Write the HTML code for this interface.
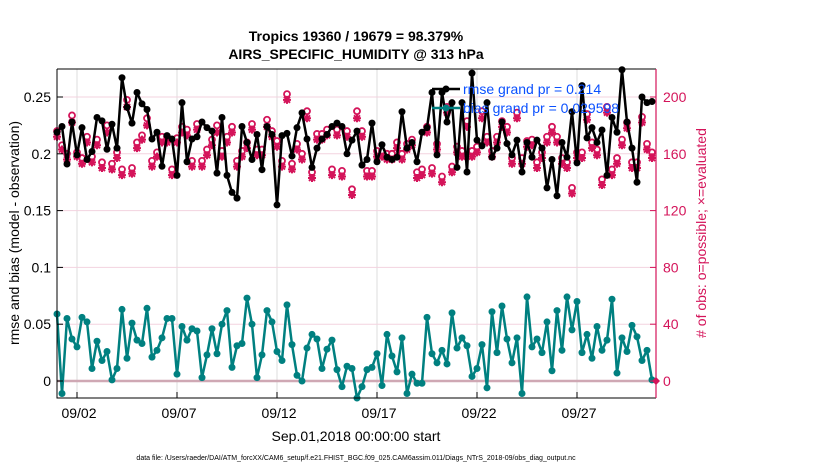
<!DOCTYPE html>
<html><head><meta charset="utf-8"><style>
body{margin:0;background:#fff;width:830px;height:470px;overflow:hidden}
svg{display:block;font-family:"Liberation Sans",Arial,sans-serif}
</style></head><body>
<svg id="chart" width="830" height="470">
<g id="grid"></g>
<g id="marks"></g>
<g id="axes"></g>
<text x="356" y="41" text-anchor="middle" font-size="14" font-weight="bold">Tropics 19360 / 19679 = 98.379%</text>
<text x="356" y="59" text-anchor="middle" font-size="14" font-weight="bold">AIRS_SPECIFIC_HUMIDITY @ 313 hPa</text>
<text x="356" y="441" text-anchor="middle" font-size="14">Sep.01,2018 00:00:00 start</text>
<text x="356" y="460" text-anchor="middle" font-size="7">data file: /Users/raeder/DAI/ATM_forcXX/CAM6_setup/f.e21.FHIST_BGC.f09_025.CAM6assim.011/Diags_NTrS_2018-09/obs_diag_output.nc</text>
<text transform="translate(19,233) rotate(-90)" text-anchor="middle" font-size="14">rmse and bias (model - observation)</text>
<text transform="translate(706,233) rotate(-90)" text-anchor="middle" font-size="14" fill="#d4145a"># of obs: o=possible; ×=evaluated</text>
<g>
<line x1="432" y1="89" x2="460" y2="89" stroke="#000" stroke-width="2.5"/>
<circle cx="446" cy="89" r="3.5" fill="#000"/>
<line x1="432" y1="108" x2="460" y2="108" stroke="#008080" stroke-width="2.5"/>
<circle cx="446" cy="108" r="3.5" fill="#008080"/>
<text x="463" y="94" font-size="14" fill="#0a50ff">rmse grand pr = 0.214</text>
<text x="463" y="113" font-size="14" fill="#0a50ff">bias grand pr = 0.029598</text>
</g>
</svg>
<script>
const xTickLabels=["09/02","09/07","09/12","09/17","09/22","09/27"];
const xTickDays=[1,6,11,16,21,26];
const leftTicks=[0,0.05,0.1,0.15,0.2,0.25];
const rightTicks=[0,40,80,120,160,200];
const rmse=[0.219,0.224,0.191,0.228,0.199,0.223,0.195,0.202,0.232,0.229,0.204,0.226,0.205,0.267,0.241,0.227,0.254,0.244,0.239,0.213,0.219,0.189,0.216,0.213,0.181,0.245,0.193,0.213,0.215,0.228,0.223,0.220,0.183,0.232,0.181,0.166,0.161,0.224,0.210,0.195,0.217,0.186,0.224,0.217,0.155,0.216,0.218,0.198,0.223,0.236,0.213,0.188,0.205,0.213,0.217,0.224,0.227,0.224,0.200,0.212,0.220,
0.190,0.195,0.227,0.193,0.208,0.197,0.195,0.197,0.237,0.205,0.210,0.193,0.219,0.223,0.254,0.199,0.254,0.228,0.245,0.188,0.245,0.184,0.271,0.212,0.207,0.245,0.197,0.205,0.228,0.209,0.199,0.212,0.184,0.210,0.197,0.212,0.205,0.170,0.195,0.163,0.210,0.197,0.237,0.192,0.260,0.214,0.223,0.210,0.221,0.181,0.232,0.219,0.274,0.228,0.205,0.175,0.250,0.245,0.246];
const bias=[0.059,-0.011,0.055,0.037,0.030,0.056,0.052,0.011,0.035,0.018,0.026,0.001,0.011,0.063,0.020,0.051,0.036,0.033,0.064,0.021,0.027,0.038,0.055,0.055,0.006,0.048,0.036,0.046,0.044,0.003,0.023,0.046,0.024,0.050,0.062,0.012,0.031,0.033,0.073,0.050,0.003,0.023,0.062,0.052,0.026,0.018,0.067,0.032,0.005,0.000,0.029,0.041,0.037,0.011,0.028,0.036,0.010,-0.005,0.013,0.011,-0.015,
-0.005,0.010,0.012,0.024,-0.004,0.041,0.022,0.008,0.038,-0.011,0.006,-0.002,-0.002,0.056,0.024,0.016,0.027,0.015,0.060,0.029,0.038,0.031,0.004,0.011,0.032,-0.006,0.061,0.025,0.066,0.037,0.016,0.038,-0.011,0.074,0.030,0.037,0.025,0.052,0.009,0.062,0.027,0.074,0.045,0.070,0.025,0.041,0.020,0.048,0.027,0.036,0.072,0.007,0.038,0.026,0.049,0.039,0.018,0.027,0.001];
const evaluated=[172,163,156,182,158,153,168,154,166,150,175,149,157,145,193,146,164,170,180,151,158,168,168,145,168,175,173,151,177,151,159,166,175,158,168,175,151,158,164,177,159,159,179,172,165,151,198,149,163,156,185,143,170,170,173,145,173,144,172,131,185,
172,144,144,158,158,156,156,164,156,163,166,143,145,175,146,163,140,189,147,161,158,179,158,161,185,168,158,168,179,175,153,185,153,165,166,150,157,168,175,168,153,150,132,157,157,184,164,159,138,189,145,153,166,178,150,150,182,163,157];
const possible=[176,166,160,187,161,157,172,158,170,154,180,153,161,149,198,150,168,173,185,155,161,172,172,149,171,179,177,155,181,155,163,170,180,162,172,179,155,162,168,181,163,163,184,176,169,155,202,153,167,160,190,147,174,174,177,149,177,148,176,135,190,
176,148,148,162,162,160,160,168,160,167,170,147,149,179,150,167,144,193,151,165,162,183,162,165,190,172,162,172,183,179,157,189,157,169,170,154,161,172,179,172,157,154,136,161,161,188,168,163,142,193,149,157,170,182,154,154,186,167,161];
const endCount=[0];

const NS="http://www.w3.org/2000/svg";
const L=57,R=656,T=69,B=398;
const xDay=d=>L+d*20;
const xIdx=i=>xDay(i*0.25);
const yL=v=>381-v*1136;
const yR=c=>381-c*1.42;
function mk(tag,attrs,parent){const e=document.createElementNS(NS,tag);for(const k in attrs)e.setAttribute(k,attrs[k]);parent.appendChild(e);return e;}
const grid=document.getElementById('grid'),marks=document.getElementById('marks'),axes=document.getElementById('axes');
xTickDays.forEach((d,i)=>{
  const gl=mk('line',{x1:xDay(d),x2:xDay(d),y1:T,y2:B,stroke:'#dcdcdc','stroke-width':1},grid);
  
  
  const tk=mk('line',{x1:xDay(d),x2:xDay(d),y1:B,y2:B-6,stroke:'#000'},axes);
  
  
  const t=mk('text',{x:xDay(d)+2,y:418,'text-anchor':'middle','font-size':14},axes);
  t.textContent=xTickLabels[i];
  
  
});
rightTicks.forEach(c=>{
  const gl=mk('line',{x1:L,x2:R,y1:yR(c),y2:yR(c),stroke:'#f3d3df','stroke-width':1},grid);
  
  
  const tk=mk('line',{x1:R,x2:R-6,y1:yR(c),y2:yR(c),stroke:'#d4145a'},axes);
  
  
  const t=mk('text',{x:663,y:yR(c)+5,'font-size':14,fill:'#d4145a'},axes);
  t.textContent=c;
  
  
});
leftTicks.forEach(v=>{
  const tk=mk('line',{x1:L,x2:L+6,y1:yL(v),y2:yL(v),stroke:'#000'},axes);
  
  
  const t=mk('text',{x:51,y:yL(v)+5,'text-anchor':'end','font-size':14},axes);
  t.textContent=String(v);
  
  
});
const zl=mk('line',{x1:L,x2:R,y1:yL(0),y2:yL(0),stroke:'#cfa8b4','stroke-width':2.5},grid);


const ax=mk('path',{d:`M${L},${T}V${B}H${R}`,fill:'none',stroke:'#000','stroke-width':1},axes);


const tl=mk('line',{x1:L,x2:R,y1:T,y2:T,stroke:'#000'},axes);


const ra=mk('line',{x1:R,x2:R,y1:T,y2:B,stroke:'#d4145a','stroke-width':1.2},axes);



// counts
possible.forEach((c,i)=>{
  const p=mk('circle',{cx:xIdx(i),cy:yR(c),r:3,fill:'#fff',stroke:'#d4145a','stroke-width':1.8},marks);
  
  
});
evaluated.forEach((c,i)=>{
  const x=xIdx(i),y=yR(c);
  const s=mk('path',{d:`M${x-4},${y}H${x+4}M${x},${y-4}V${y+4}M${x-3},${y-3}L${x+3},${y+3}M${x-3},${y+3}L${x+3},${y-3}`,stroke:'#d4145a','stroke-width':2},marks);
  
  
  const dot=mk('circle',{cx:x,cy:y,r:2.5,fill:'#d4145a'},marks);
  
  
});
function series(vals,color,name){
  const pl=mk('polyline',{points:vals.map((v,i)=>xIdx(i)+','+yL(v)).join(' '),fill:'none',stroke:color,'stroke-width':2.5,'stroke-linejoin':'round'},marks);
  
  
  vals.forEach((v,i)=>{
    const c=mk('circle',{cx:xIdx(i),cy:yL(v),r:3.5,fill:color},marks);
    
    
  });
}
series(rmse,'#000','rmse');
series(bias,'#008080','bias');
endCount.forEach(c=>{
  const x=xIdx(possible.length)-1,y=yR(c);
  const d=mk('path',{d:`M${x-4},${y}L${x},${y-4}L${x+4},${y}L${x},${y+4}Z`,fill:'#d4145a'},marks);
  
  
});
</script>
</body></html>
